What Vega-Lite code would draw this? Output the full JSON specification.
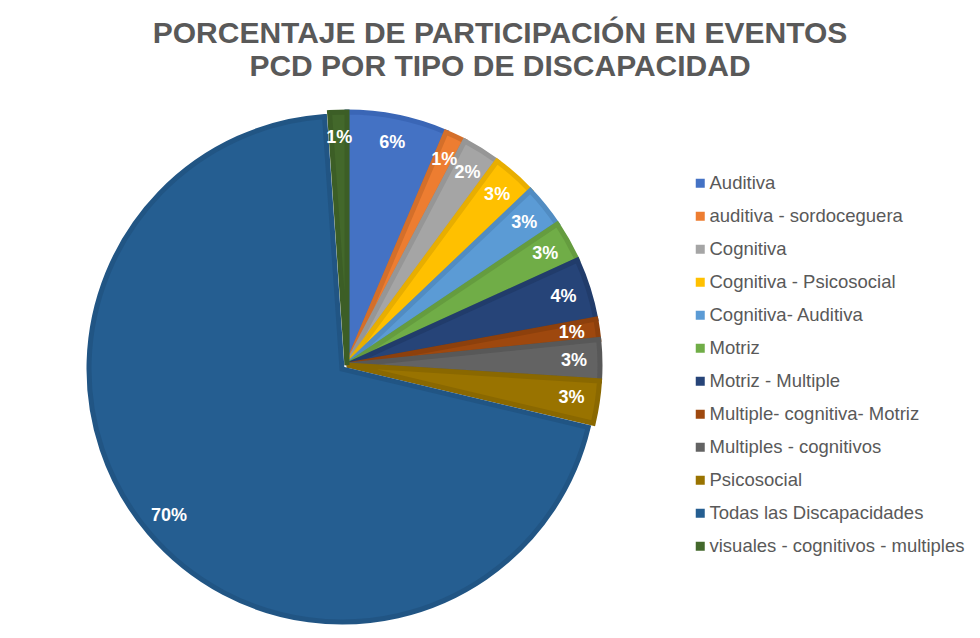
{
  "$schema": "https://vega.github.io/schema/vega-lite/v6.json",
  "width": 694,
  "height": 510,
  "autosize": {"type": "none"},
  "padding": {"left": 0, "top": 110, "right": 286, "bottom": 18},
  "background": "white",
  "config": {"view": {"stroke": null}},
  "title": {
    "text": ["PORCENTAJE  DE PARTICIPACIÓN  EN EVENTOS", "PCD POR TIPO DE DISCAPACIDAD"],
    "font": "Liberation Sans",
    "fontSize": 30,
    "fontWeight": "bold",
    "color": "#595959",
    "anchor": "middle",
    "dx": 153,
    "offset": 20,
    "lineHeight": 33
  },
  "data": {
    "values": [
      {"tipo": "Auditiva", "valor": 0.064},
      {"tipo": "auditiva - sordoceguera", "valor": 0.013},
      {"tipo": "Cognitiva", "valor": 0.024},
      {"tipo": "Cognitiva - Psicosocial", "valor": 0.028},
      {"tipo": "Cognitiva- Auditiva", "valor": 0.027},
      {"tipo": "Motriz", "valor": 0.026},
      {"tipo": "Motriz - Multiple", "valor": 0.039},
      {"tipo": "Multiple- cognitiva- Motriz", "valor": 0.013},
      {"tipo": "Multiples - cognitivos", "valor": 0.026},
      {"tipo": "Psicosocial", "valor": 0.027},
      {"tipo": "Todas las Discapacidades", "valor": 0.702},
      {"tipo": "visuales - cognitivos - multiples", "valor": 0.011}
    ]
  },
  "transform": [{"window": [{"op": "row_number", "as": "orden"}]}],
  "encoding": {
    "theta": {"field": "valor", "type": "quantitative", "stack": true},
    "order": {"field": "orden", "type": "quantitative"}
  },
  "layer": [
    {
      "mark": {
        "type": "arc",
        "outerRadius": 253,
        "strokeWidth": 5,
        "strokeJoin": "miter",
        "xOffset": {"expr": "datum.tipo == 'Todas las Discapacidades' ? -5 : 0"},
        "yOffset": {"expr": "datum.tipo == 'Todas las Discapacidades' ? 4 : 0"}
      },
      "encoding": {
        "color": {
          "field": "tipo",
          "type": "nominal",
          "scale": {
            "domain": ["Auditiva", "auditiva - sordoceguera", "Cognitiva", "Cognitiva - Psicosocial", "Cognitiva- Auditiva", "Motriz", "Motriz - Multiple", "Multiple- cognitiva- Motriz", "Multiples - cognitivos", "Psicosocial", "Todas las Discapacidades", "visuales - cognitivos - multiples"],
            "range": ["#4472C4", "#ED7D31", "#A5A5A5", "#FFC000", "#5B9BD5", "#70AD47", "#264478", "#9E480E", "#636363", "#997300", "#255E91", "#43682B"]
          },
          "legend": {
            "orient": "none",
            "legendX": 691,
            "legendY": 64,
            "title": null,
            "symbolType": "square",
            "symbolSize": 81,
            "symbolStrokeWidth": 0,
            "labelFont": "Liberation Sans",
            "labelFontSize": 18.5,
            "labelColor": "#595959",
            "labelOffset": 0,
            "labelLimit": 0,
            "rowPadding": 14
          }
        },
        "stroke": {
          "field": "tipo",
          "type": "nominal",
          "scale": {
            "domain": ["Auditiva", "auditiva - sordoceguera", "Cognitiva", "Cognitiva - Psicosocial", "Cognitiva- Auditiva", "Motriz", "Motriz - Multiple", "Multiple- cognitiva- Motriz", "Multiples - cognitivos", "Psicosocial", "Todas las Discapacidades", "visuales - cognitivos - multiples"],
            "range": ["#3a66b6", "#d46f2a", "#969696", "#e8ae00", "#518cc2", "#659c3f", "#213c6b", "#8d400c", "#585858", "#8a6800", "#215584", "#3c5e26"]
          },
          "legend": null
        }
      }
    },
    {
      "mark": {
        "type": "text",
        "radius": 227,
        "font": "Liberation Sans",
        "fontSize": 18,
        "fontWeight": "bold",
        "fill": "white",
        "xOffset": {"expr": "datum.tipo == 'Todas las Discapacidades' ? -5 : 0"},
        "yOffset": {"expr": "datum.tipo == 'Todas las Discapacidades' ? 4 : 0"}
      },
      "encoding": {
        "text": {"field": "valor", "type": "quantitative", "format": ".0%"}
      }
    }
  ]
}
